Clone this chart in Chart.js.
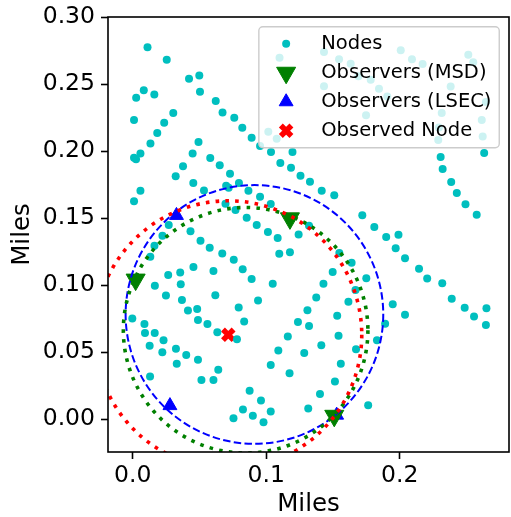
<!DOCTYPE html>
<html>
<head>
<meta charset="utf-8">
<script src="https://cdn.jsdelivr.net/npm/chart.js@4.4.0/dist/chart.umd.min.js"></script>
<style>
  html, body { margin: 0; padding: 0; background: #fff; overflow: hidden; }
  #wrap { width: 511px; height: 517px; position: relative; }
</style>
</head>
<body>
<div id="wrap"><canvas id="mapChart"></canvas></div>
<script>
// Node positions in miles
const nodeX = [
  0.0111, 0.0255, 0.0422, 0.0499, 0.0504, 0.0083, 0.0026, 0.0162, 0.0622, 0.0673,
  0.0761, 0.0821, 0.0891, 0.0954, 0.0304, 0.0236, 0.0010, 0.0184, 0.0133, 0.0058,
  0.0010, 0.0025, 0.0058, 0.0010, 0.0493, 0.0449, 0.0377, 0.0322, 0.0454, 0.0534,
  0.0581, 0.0652, 0.0729, 0.0796, 0.0867, 0.0954, 0.1034, 0.0700, 0.0719, 0.0695,
  0.0770, 0.0854, 0.0929, 0.1013, 0.0270, 0.0433, 0.0508, 0.0577, 0.0671, 0.0757,
  0.0824, 0.0891, 0.0223, 0.0163, 0.0132, 0.1036, 0.1197, 0.1106, 0.1186, 0.1257,
  0.1328, 0.1416, 0.1510, 0.1720, 0.1810, 0.1899, 0.1991, 0.1970, 0.2040, 0.2145,
  0.2206, 0.2319, 0.2390, 0.2487, 0.2557, 0.2650, 0.2646, 0.1321, 0.1243, 0.1086,
  0.1098, 0.1178, 0.1548, 0.1640, 0.1498, 0.1429, 0.1750, 0.1669, 0.1375, 0.1616,
  0.1948, 0.2040, 0.1309, 0.1532, 0.1891, 0.1321, 0.1238, 0.1542, 0.1830, 0.1049,
  0.0939, 0.0455, 0.0605, 0.0356, 0.0266, 0.0166, 0.0360, 0.0249, 0.0369, 0.0619,
  0.0414, 0.0483, 0.0794, 0.0489, 0.0560, 0.0835, -0.0003, 0.0088, 0.0092, 0.0165,
  0.0231, 0.0634, 0.0781, 0.0127, 0.0222, 0.0324, 0.0401, 0.0489, 0.0330, 0.0130,
  0.0515, 0.0605, 0.0641, 0.0876, 0.0961, 0.0826, 0.0900, 0.0755, 0.1034, 0.0980,
  0.1034, 0.1091, 0.1162, 0.1175, 0.1285, 0.1413, 0.1559, 0.1515, 0.1403, 0.1315,
  0.1764, 0.1673, 0.2008, 0.2092, 0.2172, 0.2382, 0.2315, 0.2294, 0.2289, 0.2307,
  0.2322, 0.2386, 0.2428, 0.2493, 0.2577, 0.2514, 0.2551, 0.2646, 0.2615, 0.2622,
  0.2633, 0.1100, 0.1433, 0.1546, 0.1633, 0.1691, 0.1783, 0.1845, 0.1433, 0.1748,
  0.1907, 0.1016, 0.1079
];
const nodeY = [
  0.2775, 0.2681, 0.2539, 0.2564, 0.2443, 0.2454, 0.2398, 0.2422, 0.2373, 0.2287,
  0.2249, 0.2174, 0.2099, 0.2037, 0.2284, 0.2211, 0.2231, 0.2134, 0.2056, 0.1982,
  0.1950, 0.1939, 0.1704, 0.1625, 0.2068, 0.1982, 0.1887, 0.1812, 0.1762, 0.1705,
  0.1949, 0.1894, 0.1831, 0.1762, 0.1704, 0.1659, 0.1605, 0.1741, 0.1726, 0.1607,
  0.1560, 0.1502, 0.1448, 0.1396, 0.1448, 0.1401, 0.1331, 0.1278, 0.1235, 0.1189,
  0.1119, 0.1046, 0.1368, 0.1293, 0.1211, 0.1993, 0.1993, 0.1911, 0.1875, 0.1816,
  0.1771, 0.1704, 0.1670, 0.1521, 0.1434, 0.1359, 0.1375, 0.1275, 0.1201, 0.1122,
  0.1049, 0.1013, 0.0898, 0.0831, 0.0766, 0.0827, 0.0702, 0.1443, 0.1378, 0.1351,
  0.1234, 0.1245, 0.1239, 0.1166, 0.1097, 0.1010, 0.1051, 0.0963, 0.0907, 0.0875,
  0.0858, 0.0778, 0.0813, 0.0771, 0.0711, 0.0694, 0.0724, 0.0622, 0.0588, 0.1010,
  0.0885, 0.1135, 0.1105, 0.1094, 0.1075, 0.0996, 0.1007, 0.0922, 0.0888, 0.0925,
  0.0810, 0.0822, 0.0833, 0.0739, 0.0710, 0.0728, 0.0751, 0.0710, 0.0643, 0.0643,
  0.0588, 0.0649, 0.0596, 0.0547, 0.0499, 0.0526, 0.0478, 0.0443, 0.0414, 0.0318,
  0.0292, 0.0292, 0.0368, 0.0211, 0.0140, 0.0072, 0.0025, 0.0007, 0.0057, -0.0024,
  0.0404, 0.0512, 0.0616, 0.0342, 0.0493, 0.0551, 0.0414, 0.0280, 0.0187, 0.0079,
  0.0103, 0.0522, 0.2752, 0.2684, 0.2649, 0.2482, 0.2284, 0.2176, 0.2082, 0.1955,
  0.1866, 0.1769, 0.1687, 0.1604, 0.1525, 0.2719, 0.2663, 0.2366, 0.2231, 0.2109,
  0.1986, 0.2696, 0.2739, 0.2685, 0.2651, 0.2558, 0.2532, 0.2465, 0.2484, 0.2267,
  0.2407, 0.2144, 0.2092
];

const msdX = [0.0022, 0.1178, 0.1510];
const msdY = [0.1041, 0.1498, 0.0025];

const lsecX = [0.0328, 0.0279, 0.1528];
const lsecY = [0.1520, 0.0101, 0.0030];

const observedX = [0.0716];
const observedY = [0.0629];

// estimated range circles (LSEC, MSD, true distance)
const circleX = [0.0912, 0.0846, 0.0716];
const circleY = [0.0781, 0.0663, 0.0629];
const circleR = [0.0965, 0.0916, 0.1000];

const xTicks = [0, 0.1, 0.2];
const xTickLabels = ['0.0', '0.1', '0.2'];
const yTicks = [0, 0.05, 0.10, 0.15, 0.20, 0.25, 0.30];
const yTickLabels = ['0.00', '0.05', '0.10', '0.15', '0.20', '0.25', '0.30'];

const legendLabels = ['Nodes', 'Observers (MSD)', 'Observers (LSEC)', 'Observed Node'];

const circleStyles = [
  { color: '#0000ff', dash: [7.5, 3.3], width: 2 },
  { color: '#008000', dash: [3.6, 6.2], width: 3.6 },
  { color: '#ff0000', dash: [3.6, 6.2], width: 3.6 }
];

const toPoints = (xs, ys) => xs.map((x, i) => ({ x: x, y: ys[i] }));
const FONT = 'DejaVu Sans';

const circlesPlugin = {
  id: 'rangeCircles',
  afterDatasetsDraw(chart) {
    const { ctx, chartArea: a, scales: { x, y } } = chart;
    ctx.save();
    ctx.beginPath();
    ctx.rect(a.left, a.top, a.right - a.left, a.bottom - a.top);
    ctx.clip();
    circleX.forEach((cx, i) => {
      const px = x.getPixelForValue(cx);
      const py = y.getPixelForValue(circleY[i]);
      const rx = x.getPixelForValue(cx + circleR[i]) - px;
      const ry = py - y.getPixelForValue(circleY[i] + circleR[i]);
      const st = circleStyles[i];
      ctx.beginPath();
      ctx.ellipse(px, py, rx, ry, 0, 0, Math.PI * 2);
      ctx.setLineDash(st.dash);
      ctx.lineWidth = st.width;
      ctx.strokeStyle = st.color;
      ctx.lineCap = 'butt';
      ctx.stroke();
    });
    ctx.restore();
  },
  afterDraw(chart) {
    const { ctx, chartArea: a } = chart;
    ctx.save();
    // frame
    ctx.setLineDash([]);
    ctx.lineWidth = 1.6;
    ctx.strokeStyle = '#000';
    ctx.strokeRect(a.left, a.top, a.right - a.left, a.bottom - a.top);

    // legend
    const fs = 19.5;
    ctx.font = fs + 'px "' + FONT + '"';
    const textW = Math.max(...legendLabels.map(t => ctx.measureText(t).width));
    const pad = 0.4 * fs, handle = 2 * fs, gap = 0.8 * fs, rowStep = 29;
    const w = pad * 2 + handle + gap + textW;
    const h = 121;
    const left = a.right - 0.5 * fs - w;
    const top = a.top + 0.5 * fs;
    ctx.beginPath();
    ctx.roundRect(left, top, w, h, 4);
    ctx.fillStyle = 'rgba(255,255,255,0.8)';
    ctx.fill();
    ctx.lineWidth = 1.4;
    ctx.strokeStyle = '#cccccc';
    ctx.stroke();

    chart.data.datasets.forEach((ds, i) => {
      const cy = top + 17 + i * rowStep;
      const mx = left + pad + handle / 2;
      ctx.fillStyle = ds.backgroundColor;
      ctx.strokeStyle = ds.borderColor;
      ctx.lineWidth = ds.borderWidth;
      Chart.helpers.drawPoint(ctx, {
        pointStyle: ds.pointStyle,
        radius: ds.pointRadius,
        rotation: ds.rotation || 0,
        borderWidth: ds.borderWidth
      }, mx, cy);
      ctx.fillStyle = '#000';
      ctx.textAlign = 'left';
      ctx.textBaseline = 'middle';
      ctx.fillText(legendLabels[i], left + pad + handle + gap, cy);
    });
    ctx.restore();
  }
};

const ctx = document.getElementById('mapChart').getContext('2d');
new Chart(ctx, {
  type: 'scatter',
  data: {
    datasets: [
      {
        label: legendLabels[0],
        data: toPoints(nodeX, nodeY),
        pointStyle: 'circle',
        pointRadius: 4,
        backgroundColor: '#00bfbf',
        borderColor: '#00bfbf',
        borderWidth: 0
      },
      {
        label: legendLabels[1],
        data: toPoints(msdX, msdY),
        pointStyle: 'triangle',
        rotation: 180,
        pointRadius: 11,
        backgroundColor: '#008000',
        borderColor: '#008000',
        borderWidth: 1
      },
      {
        label: legendLabels[2],
        data: toPoints(lsecX, lsecY),
        pointStyle: 'triangle',
        pointRadius: 8,
        backgroundColor: '#0000ff',
        borderColor: '#0000ff',
        borderWidth: 1
      },
      {
        label: legendLabels[3],
        data: toPoints(observedX, observedY),
        pointStyle: 'crossRot',
        pointRadius: 7.5,
        backgroundColor: '#ff0000',
        borderColor: '#ff0000',
        borderWidth: 5.5
      }
    ]
  },
  options: {
    responsive: true,
    maintainAspectRatio: false,
    animation: false,
    layout: { autoPadding: false, padding: { left: 0, right: 2, top: 17, bottom: 0 } },
    plugins: {
      legend: { display: false },
      tooltip: { enabled: false }
    },
    scales: {
      x: {
        type: 'linear',
        min: -0.0185,
        max: 0.2819,
        afterBuildTicks: s => { s.ticks = xTicks.map(v => ({ value: v })); },
        afterFit: s => { s.height = 65; s.paddingLeft = 0; s.paddingRight = 0; },
        ticks: {
          callback: v => xTickLabels[xTicks.indexOf(v)],
          color: '#000',
          font: { family: FONT, size: 23.5 },
          padding: 3,
          maxRotation: 0,
          autoSkip: false
        },
        grid: { drawOnChartArea: false, drawTicks: true, tickLength: 7, tickColor: '#000', tickWidth: 1.6 },
        border: { display: false },
        title: {
          display: true,
          text: 'Miles',
          color: '#000',
          font: { family: FONT, size: 24.5, lineHeight: 1 },
          padding: { top: 0, bottom: 0 }
        }
      },
      y: {
        type: 'linear',
        min: -0.0245,
        max: 0.30,
        afterBuildTicks: s => { s.ticks = yTicks.map(v => ({ value: v })); },
        afterFit: s => { s.width = 108; s.paddingTop = 0; s.paddingBottom = 0; },
        ticks: {
          callback: v => yTickLabels[yTicks.indexOf(v)],
          color: '#000',
          font: { family: FONT, size: 23.5 },
          padding: 6,
          autoSkip: false
        },
        grid: { drawOnChartArea: false, drawTicks: true, tickLength: 7, tickColor: '#000', tickWidth: 1.6 },
        border: { display: false },
        title: {
          display: true,
          text: 'Miles',
          color: '#000',
          font: { family: FONT, size: 24.5, lineHeight: 1 },
          padding: { top: 10, bottom: 0 }
        }
      }
    }
  },
  plugins: [circlesPlugin]
});
</script>
</body>
</html>
